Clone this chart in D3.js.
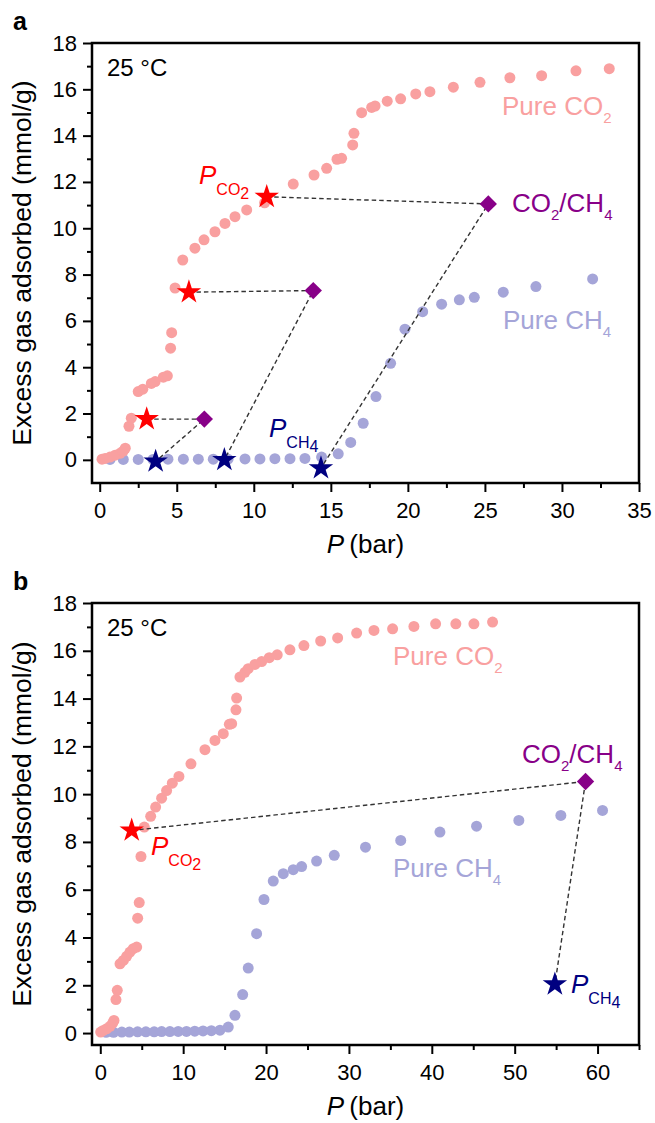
<!DOCTYPE html>
<html>
<head>
<meta charset="utf-8">
<script src="https://cdn.jsdelivr.net/npm/d3@7"></script>
<style>
  body { margin: 0; background: #fff; }
  svg { display: block; font-family: "Liberation Sans", Arial, sans-serif; }
</style>
</head>
<body>
<div class="chart"></div>
<script>
// ---- panel a : pure isotherms (P in bar, excess in mmol/g)
const aCO2P = [0.15, 0.35, 0.67, 1.0, 1.32, 1.53, 1.66, 1.9, 2.05, 2.5, 2.8, 3.35, 3.6, 4.13, 4.39, 4.6, 4.67, 4.89,
  5.39, 6.18, 6.77, 7.48, 8.13, 8.78, 9.54, 10.7, 12.56, 13.91, 14.73, 15.4, 15.7, 16.42, 16.5, 17.0, 17.65, 17.87,
  18.66, 19.53, 20.51, 21.43, 22.95, 24.68, 26.62, 28.68, 30.91, 33.07];
const aCO2Q = [0.03, 0.06, 0.12, 0.2, 0.28, 0.38, 0.5, 1.45, 1.8, 2.95, 3.05, 3.3, 3.38, 3.57, 3.63, 4.82, 5.49, 7.42,
  8.63, 9.14, 9.5, 9.85, 10.21, 10.5, 10.79, 11.1, 11.91, 12.3, 12.59, 12.98, 13.02, 13.6, 14.1, 14.99, 15.22, 15.28,
  15.49, 15.59, 15.8, 15.9, 16.09, 16.3, 16.5, 16.59, 16.8, 16.89];
const aCH4P = [0.67, 1.53, 2.5, 3.46, 4.43, 5.43, 6.4, 7.37, 8.33, 9.43, 10.4, 11.37, 12.35, 13.32, 14.4, 15.48, 16.29,
  17.1, 17.93, 18.88, 19.81, 20.96, 22.19, 23.34, 24.31, 26.19, 28.31, 31.99];
const aCH4Q = [0.02, 0.02, 0.02, 0.02, 0.03, 0.03, 0.03, 0.03, 0.03, 0.04, 0.04, 0.05, 0.05, 0.06, 0.12, 0.26, 0.75,
  1.58, 2.73, 4.17, 5.64, 6.4, 6.72, 6.91, 7.02, 7.24, 7.48, 7.81];
// mixture points: CO2 partial pressure star, mixture diamond, CH4 partial pressure star
const aStarCO2P = [3.05, 5.79, 10.84];
const aStarCO2Q = [1.76, 7.24, 11.36];
const aMixP = [6.79, 13.86, 25.22];
const aMixQ = [1.76, 7.31, 11.05];
const aStarCH4P = [3.63, 8.09, 14.36];
const aStarCH4Q = [-0.07, 0.0, -0.36];
const aXTicks = [0, 5, 10, 15, 20, 25, 30, 35];

// ---- panel b
const bCO2P = [0.05, 0.36, 0.77, 1.17, 1.5, 1.65, 1.89, 2.05, 2.38, 2.78, 3.18, 3.58, 3.98, 4.39, 4.51, 4.7, 4.91,
  5.31, 6.08, 6.68, 7.4, 8.0, 8.69, 9.49, 10.94, 12.63, 13.84, 14.84, 15.57, 15.85, 16.37, 16.45, 16.85, 17.45, 17.85,
  18.66, 19.47, 20.39, 21.35, 22.88, 24.57, 26.59, 28.64, 30.93, 33.02, 35.27, 37.84, 40.46, 42.9, 45.08, 47.33];
const bCO2Q = [0.04, 0.11, 0.18, 0.28, 0.42, 0.53, 1.4, 1.79, 2.9, 3.04, 3.21, 3.39, 3.53, 3.6, 4.81, 5.46, 7.39,
  8.62, 9.07, 9.46, 9.83, 10.15, 10.46, 10.74, 11.27, 11.86, 12.25, 12.53, 12.92, 12.95, 13.53, 14.02, 14.9, 15.1, 15.25,
  15.43, 15.55, 15.71, 15.83, 16.04, 16.22, 16.41, 16.54, 16.74, 16.85, 16.92, 17.02, 17.13, 17.13, 17.13, 17.2];
const bCH4P = [0.7, 1.6, 2.6, 3.5, 4.5, 5.5, 6.5, 7.4, 8.4, 9.4, 10.4, 11.4, 12.4, 13.4, 14.44, 15.44, 16.25, 17.18,
  17.85, 18.86, 19.75, 20.87, 22.08, 23.28, 24.29, 26.1, 28.23, 32.0, 36.25, 40.98, 45.4, 50.5, 55.57, 60.6];
const bCH4Q = [0.03, 0.03, 0.04, 0.04, 0.05, 0.05, 0.05, 0.06, 0.06, 0.07, 0.07, 0.08, 0.09, 0.1, 0.12, 0.25, 0.74, 1.61,
  2.72, 4.16, 5.59, 6.36, 6.67, 6.84, 6.97, 7.2, 7.44, 7.78, 8.06, 8.41, 8.66, 8.9, 9.11, 9.32];
const bStarCO2P = [3.79];
const bStarCO2Q = [8.48];
const bMixP = [58.55];
const bMixQ = [10.53];
const bStarCH4P = [54.85];
const bStarCH4Q = [2.04];
const bXTicks = [0, 10, 20, 30, 40, 50, 60];

const yTicks = [0, 2, 4, 6, 8, 10, 12, 14, 16, 18];

const width = 655, height = 1123;
const pink = "#f9a0a0", lavender = "#a5a5d8", red = "#ff0000", navy = "#000080", purple = "#880088";

const svg = d3.select(".chart").append("svg")
    .attr("width", width)
    .attr("height", height)
    .attr("viewBox", [0, 0, width, height]);

// text with subscripts: parts = [text, size, dy, italic]
function label(g, x, y, color, parts) {
  const t = g.append("text").attr("x", x).attr("y", y).attr("fill", color);
  parts.forEach(([s, size, dy, italic]) => {
    t.append("tspan")
        .attr("font-size", size)
        .attr("dy", dy)
        .attr("font-style", italic ? "italic" : null)
        .text(s);
  });
  return t;
}

function Panel({
    co2P, co2Q, ch4P, ch4Q,
    starCO2P, starCO2Q, mixP, mixQ, starCH4P, starCH4Q,
    xDomain, yDomain, xTicks, xMinor, letter,
    top, bottom, left = 92, right = 639,
    r = 5.5
  }) {
  const x = d3.scaleLinear(xDomain, [left, right]);
  const y = d3.scaleLinear(yDomain, [bottom, top]);
  const g = svg.append("g");

  // axes (ticks outward, labels only on majors)
  g.append("g")
      .attr("transform", `translate(0,${bottom})`)
      .call(d3.axisBottom(x).tickValues(xTicks).tickSize(9).tickPadding(10).tickFormat(d3.format("d")))
      .call(a => a.select(".domain").remove())
      .call(a => a.selectAll("text").attr("font-size", 22).attr("font-family", null));
  g.append("g")
      .attr("transform", `translate(0,${bottom})`)
      .call(d3.axisBottom(x).tickValues(xMinor).tickSize(5).tickFormat(""))
      .call(a => a.select(".domain").remove());
  g.append("g")
      .attr("transform", `translate(${left},0)`)
      .call(d3.axisLeft(y).tickValues(yTicks).tickSize(9).tickPadding(6))
      .call(a => a.select(".domain").remove())
      .call(a => a.selectAll("text").attr("font-size", 22).attr("font-family", null));
  g.append("g")
      .attr("transform", `translate(${left},0)`)
      .call(d3.axisLeft(y).tickValues(d3.range(1, 18, 2)).tickSize(5).tickFormat(""))
      .call(a => a.select(".domain").remove());
  g.selectAll(".tick line").attr("stroke-width", 2);

  g.append("rect")
      .attr("x", left).attr("y", top)
      .attr("width", right - left).attr("height", bottom - top)
      .attr("fill", "none")
      .attr("stroke", "#000")
      .attr("stroke-width", 2.5);

  // pure component isotherms
  g.append("g").attr("fill", lavender)
    .selectAll("circle")
    .data(d3.range(ch4P.length))
    .join("circle")
      .attr("cx", i => x(ch4P[i]))
      .attr("cy", i => y(ch4Q[i]))
      .attr("r", r);
  g.append("g").attr("fill", pink)
    .selectAll("circle")
    .data(d3.range(co2P.length))
    .join("circle")
      .attr("cx", i => x(co2P[i]))
      .attr("cy", i => y(co2Q[i]))
      .attr("r", r);

  // dashed guides star(CO2) -> diamond -> star(CH4)
  const line = d3.line().x(d => x(d[0])).y(d => y(d[1]));
  g.append("g")
    .selectAll("path")
    .data(d3.range(mixP.length))
    .join("path")
      .attr("fill", "none")
      .attr("stroke", "#333")
      .attr("stroke-width", 1.4)
      .attr("stroke-dasharray", "4.5,3")
      .attr("d", i => line([[starCO2P[i], starCO2Q[i]], [mixP[i], mixQ[i]], [starCH4P[i], starCH4Q[i]]]));

  const star = d3.symbol(d3.symbolStar, 185);
  g.append("g").attr("fill", red)
    .selectAll("path")
    .data(d3.range(starCO2P.length))
    .join("path")
      .attr("transform", i => `translate(${x(starCO2P[i])},${y(starCO2Q[i])})`)
      .attr("d", star);
  g.append("g").attr("fill", navy)
    .selectAll("path")
    .data(d3.range(starCH4P.length))
    .join("path")
      .attr("transform", i => `translate(${x(starCH4P[i])},${y(starCH4Q[i])})`)
      .attr("d", star);
  g.append("g").attr("fill", purple)
    .selectAll("path")
    .data(d3.range(mixP.length))
    .join("path")
      .attr("transform", i => `translate(${x(mixP[i])},${y(mixQ[i])}) rotate(45)`)
      .attr("d", d3.symbol(d3.symbolSquare, 150));

  // titles
  g.append("text")
      .attr("x", 13).attr("y", top - 13)
      .attr("font-size", 25).attr("font-weight", "bold")
      .text(letter);
  label(g, left + 15, top + 33, "#000", [["25 °C", 24, 0]]);
  label(g, (left + right) / 2, bottom + 70, "#000", [["P", 26, 0, true], ["\u2009(bar)", 26, 0]])
      .attr("text-anchor", "middle");
  label(g, 0, 0, "#000", [["Excess gas adsorbed (mmol/g)", 26.5, 0]])
      .attr("text-anchor", "middle")
      .attr("transform", `translate(31,${(top + bottom) / 2}) rotate(-90)`);

  return {g, x, y};
}

// ---- panel a
const A = Panel({
  co2P: aCO2P, co2Q: aCO2Q, ch4P: aCH4P, ch4Q: aCH4Q,
  starCO2P: aStarCO2P, starCO2Q: aStarCO2Q, mixP: aMixP, mixQ: aMixQ,
  starCH4P: aStarCH4P, starCH4Q: aStarCH4Q,
  xDomain: [-0.5, 35], yDomain: [-1, 18],
  xTicks: aXTicks, xMinor: d3.range(2.5, 35, 5),
  letter: "a", top: 43, bottom: 483
});
label(A.g, 502, 115, pink, [["Pure CO", 26, 0], ["2", 15, 8]]);
label(A.g, 503, 329, lavender, [["Pure CH", 26, 0], ["4", 15, 8]]);
label(A.g, 512, 212, purple, [["CO", 26, 0], ["2", 15, 8], ["/CH", 26, -8], ["4", 15, 8]]);
label(A.g, 199, 184, red, [["P", 26, 0, true], ["CO", 16, 11], ["2", 16, 4]]);
label(A.g, 269, 437, navy, [["P", 26, 0, true], ["CH", 16, 11], ["4", 16, 4]]);

// ---- panel b
const B = Panel({
  co2P: bCO2P, co2Q: bCO2Q, ch4P: bCH4P, ch4Q: bCH4Q,
  starCO2P: bStarCO2P, starCO2Q: bStarCO2Q, mixP: bMixP, mixQ: bMixQ,
  starCH4P: bStarCH4P, starCH4Q: bStarCH4Q,
  xDomain: [-1, 65], yDomain: [-0.5, 18],
  xTicks: bXTicks, xMinor: d3.range(5, 66, 10),
  letter: "b", top: 603, bottom: 1045
});
label(B.g, 393, 665, pink, [["Pure CO", 26, 0], ["2", 15, 8]]);
label(B.g, 393, 877, lavender, [["Pure CH", 26, 0], ["4", 15, 8]]);
label(B.g, 522, 763, purple, [["CO", 26, 0], ["2", 15, 8], ["/CH", 26, -8], ["4", 15, 8]]);
label(B.g, 151, 855, red, [["P", 26, 0, true], ["CO", 16, 11], ["2", 16, 4]]);
label(B.g, 571, 993, navy, [["P", 26, 0, true], ["CH", 16, 11], ["4", 16, 4]]);
</script>
</body>
</html>
